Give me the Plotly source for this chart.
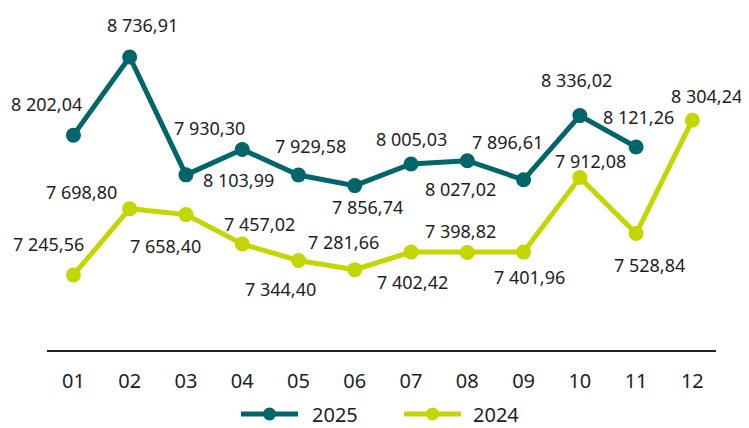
import plotly.graph_objects as go

months = ["01", "02", "03", "04", "05", "06", "07", "08", "09", "10", "11", "12"]
values_2025 = [8202.04, 8736.91, 7930.30, 8103.99, 7929.58, 7856.74, 8005.03, 8027.02, 7896.61, 8336.02, 8121.26]
values_2024 = [7245.56, 7698.80, 7658.40, 7457.02, 7344.40, 7281.66, 7402.42, 7398.82, 7401.96, 7912.08, 7528.84, 8304.24]

# label offsets in pixels (dx right, dy down) -- styling only
off_2025 = [(-27, -31), (13, -32), (24, -47), (-4, 31), (12, -29), (13, 21), (0, -25), (-7, 28), (-16, -38), (-3, -36), (2, -30)]
off_2024 = [(-25, -31), (-48, -17), (-20, 31), (17, -20), (-18, 28), (-11, -28), (1, 30), (-7, -22), (6, 25), (11, -17), (13, 31), (14, -24)]

C25 = "#00666A"
C24 = "#C4D600"
TXT = "#1E1E1E"
FONT = "Noto Sans"

PAGE = 8  # default body margin of the html page
FW, FH = 749 - PAGE, 428 - PAGE
L = 47 - PAGE
W = 669
T = 20 - PAGE
H = 330


def fmt(v):
    return f"{v:,.2f}".replace(",", " ").replace(".", ",")


fig = go.Figure()
fig.add_trace(go.Scatter(x=list(range(len(values_2024))), y=values_2024, mode="lines+markers",
                         line=dict(color=C24, width=5), marker=dict(size=15, color=C24),
                         name="2024", showlegend=False, hoverinfo="skip"))
fig.add_trace(go.Scatter(x=list(range(len(values_2025))), y=values_2025, mode="lines+markers",
                         line=dict(color=C25, width=5), marker=dict(size=15, color=C25),
                         name="2025", showlegend=False, hoverinfo="skip"))

annotations = []
for vals, offs in ((values_2025, off_2025), (values_2024, off_2024)):
    for i, (v, (dx, dy)) in enumerate(zip(vals, offs)):
        annotations.append(dict(x=i, y=v, xref="x", yref="y", text=fmt(v), showarrow=False,
                                xshift=dx, yshift=-dy, xanchor="center", yanchor="middle",
                                font=dict(family=FONT, size=18, color=TXT)))


# custom legend (page pixel positions -> paper coords)
def px(xp):
    return (xp - PAGE - L) / W


def py(yp):
    return (T + H - (yp - PAGE)) / H


shapes = []
leg_y = 414
for name, col, x0, x1, tx in (("2025", C25, 241, 298, 310), ("2024", C24, 404, 461, 471)):
    shapes.append(dict(type="line", xref="paper", yref="paper", x0=px(x0), x1=px(x1), y0=py(leg_y), y1=py(leg_y),
                       line=dict(color=col, width=5), layer="above"))
    cx = (x0 + x1) / 2
    shapes.append(dict(type="circle", xref="paper", yref="paper", x0=px(cx - 6.5), x1=px(cx + 6.5),
                       y0=py(leg_y + 6.5), y1=py(leg_y - 6.5), fillcolor=col, line=dict(width=0), layer="above"))
    annotations.append(dict(x=px(tx), y=py(leg_y), xref="paper", yref="paper", text=name, showarrow=False,
                            xanchor="left", yanchor="middle",
                            font=dict(family=FONT, size=20, color=TXT)))

fig.update_layout(
    width=FW, height=FH,
    margin=dict(l=L, r=FW - L - W, t=T, b=FH - T - H),
    plot_bgcolor="white", paper_bgcolor="white",
    showlegend=False,
    xaxis=dict(tickmode="array", tickvals=list(range(len(months))), ticktext=months,
               range=[-0.47, 11.42], showgrid=False, zeroline=False,
               showline=True, linecolor="#222222", linewidth=1.5,
               ticks="outside", ticklen=12, tickcolor="rgba(0,0,0,0)",
               tickfont=dict(family=FONT, size=20, color=TXT), fixedrange=True),
    yaxis=dict(range=[6732, 8990], visible=False, showgrid=False, zeroline=False, fixedrange=True),
    annotations=annotations,
    shapes=shapes,
)

fig.write_html("out.html")
